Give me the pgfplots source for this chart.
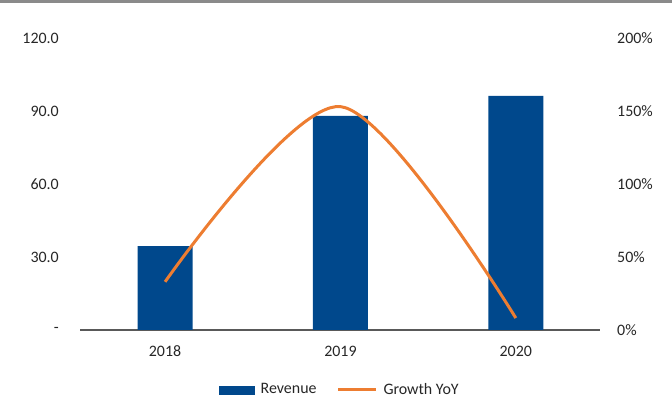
\documentclass[border=0pt]{standalone}
\usepackage{pgfplots}
\pgfplotsset{compat=1.18}
\usepackage{fontspec}
\setmainfont{Carlito}
\definecolor{revblue}{HTML}{00488C}
\definecolor{growth}{HTML}{ED7D31}
\definecolor{axgrey}{HTML}{595959}
\definecolor{topgrey}{HTML}{8A8A8A}
\begin{document}
\fontsize{16}{19}\selectfont
\begin{tikzpicture}
\path[use as bounding box] (0,0) rectangle (672bp,402bp);
\draw[line width=3bp, topgrey] (0,400.5bp) -- (672bp,400.5bp);
\pgfplotsset{
  base/.style={
    at={(80bp,72bp)}, anchor=south west, scale only axis,
    width=520bp, height=292bp,
    xmin=-0.485, xmax=2.48,
    major tick length=0,
    tick label style={text=black!85, inner sep=0pt},
    /pgf/number format/assume math mode=true,
  },
}
\begin{axis}[base,
    ymin=0, ymax=120,
    axis x line*=bottom, axis y line*=left,
    x axis line style={axgrey, line width=1.3bp},
    y axis line style={draw=none},
    xtick={0,1,2}, xticklabels={2018,2019,2020},
    xticklabel style={anchor=base, yshift=-27bp},
    ytick={0,30,60,90,120},
    yticklabels={-,30.0,60.0,90.0,120.0},
    yticklabel style={anchor=east, xshift=-21bp},
]
\addplot[ybar, bar width=55bp, fill=revblue, draw=none] coordinates {(0,34.5) (1,88) (2,96.2)};
\end{axis}
\begin{axis}[base,
    ymin=0, ymax=200,
    axis x line=none, axis y line*=right,
    y axis line style={draw=none},
    ytick={0,50,100,150,200},
    yticklabel={\pgfmathprintnumber{\tick}\%},
    yticklabel style={anchor=west, xshift=17bp},
    legend style={at={(axis description cs:0.5,-0.205)}, anchor=center,
      draw=none, fill=none, legend columns=2, text=black!85,
      /tikz/every odd column/.append style={column sep=4bp},
      /tikz/every even column/.append style={column sep=18bp}},
]
\addlegendimage{legend image code/.code={\fill[revblue] (0bp,-4bp) rectangle (35bp,4bp);}}
\addlegendentry{Revenue}
\addplot[smooth, growth, line width=3bp,
  legend image code/.code={\draw[growth, line width=3bp] (0bp,0bp) -- (38bp,0bp);}]
  coordinates {(0,33) (1,153) (2,8.2)};
\addlegendentry{Growth YoY}
\end{axis}
\end{tikzpicture}
\end{document}
